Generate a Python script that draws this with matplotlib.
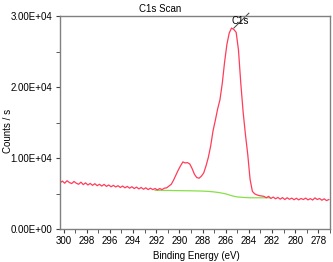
import numpy as np
import matplotlib
matplotlib.use('Agg')
import matplotlib.pyplot as plt
from matplotlib.ticker import FuncFormatter, MultipleLocator

plt.rcParams['font.family'] = ['Liberation Sans', 'DejaVu Sans']

# measured spectrum, 300.3 eV down to 277.1 eV every 0.2 eV
energy = np.round(np.arange(300.3, 277.0, -0.2), 1)
counts = [6500, 6750, 6450, 6800, 6550, 6400, 6700, 6450, 6300, 6600,
          6250, 6500, 6200, 6420, 6150, 6380, 6100, 6300, 6050, 6280,
          6000, 6200, 5950, 6150, 5920, 6100, 5850, 6050, 5800, 6000,
          5750, 5950, 5700, 5900, 5650, 5850, 5600, 5800, 5550, 5750,
          5550, 5700,
          5500, 5700, 5550, 5750, 5800, 6050, 6300, 6900, 7600, 8300,
          8900, 9450, 9300, 9350, 9150, 8500, 7700, 7250, 7150, 7450,
          7900, 8900, 10100, 11700, 13800, 15300, 16900, 18200, 20500, 23500,
          26000, 27600, 28300, 28100, 27700, 25200, 20500, 16500, 13300, 10500,
          7000, 5300, 4950, 4800, 4700, 4650,
          4600, 4400, 4600, 4300, 4500, 4250, 4450, 4200, 4420, 4150,
          4400, 4180, 4350, 4120, 4330, 4100, 4300, 4150, 4350, 4100,
          4280, 4080, 4380, 4150, 4300, 4050, 4250, 4000, 4150]

# background (Shirley-type) under the C1s envelope
bg_energy = [292.1, 291.0, 290.0, 289.0, 288.2, 287.5, 287.0, 286.5, 286.0,
             285.4, 285.0, 284.5, 283.9, 283.0, 282.2]
bg_counts = [5450, 5430, 5400, 5380, 5350, 5300, 5220, 5110, 4950,
             4650, 4520, 4450, 4400, 4400, 4400]

fig = plt.figure(figsize=(3.33, 2.62), dpi=100)
ax = fig.add_axes([59.5/333, (262-229)/262, (330-59.5)/333, (229-16)/262])

ax.plot(bg_energy, bg_counts, color='#88e048', lw=0.9)
ax.plot(energy, counts, color='#ff3c5a', lw=0.9)

# peak label with leader line
ax.plot([285.3, 284.0], [28300, 30400], color='#404040', lw=0.7, clip_on=False)
ax.text(284.75, 29300, 'C1s', fontsize=7, ha='center', va='center')

ax.set_xlim(300.35, 277.0)
ax.set_ylim(0, 30000)
ax.xaxis.set_major_locator(MultipleLocator(2))
ax.xaxis.set_minor_locator(MultipleLocator(1))
ax.yaxis.set_major_locator(MultipleLocator(10000))
ax.yaxis.set_minor_locator(MultipleLocator(5000))
ax.yaxis.set_major_formatter(FuncFormatter(lambda v, p: '%.2fE+%02d' % (v / 1e4, 4) if v else '0.00E+00'))

for s in ax.spines.values():
    s.set_color('#808080')
    s.set_linewidth(1.0)
ax.tick_params(which='both', colors='#404040', labelcolor='black', labelsize=7, pad=2)
ax.tick_params(which='major', length=3)
ax.tick_params(which='minor', length=3)

fig.text(160/333, 1 - 9/262, 'C1s Scan', fontsize=7, ha='center', va='center')
fig.text(196/333, 1 - 256/262, 'Binding Energy (eV)', fontsize=7, ha='center', va='center')
fig.text(8/333, 1 - 131/262, 'Counts / s', fontsize=7, ha='center', va='center', rotation=90)

plt.savefig('out.png', dpi=100)
